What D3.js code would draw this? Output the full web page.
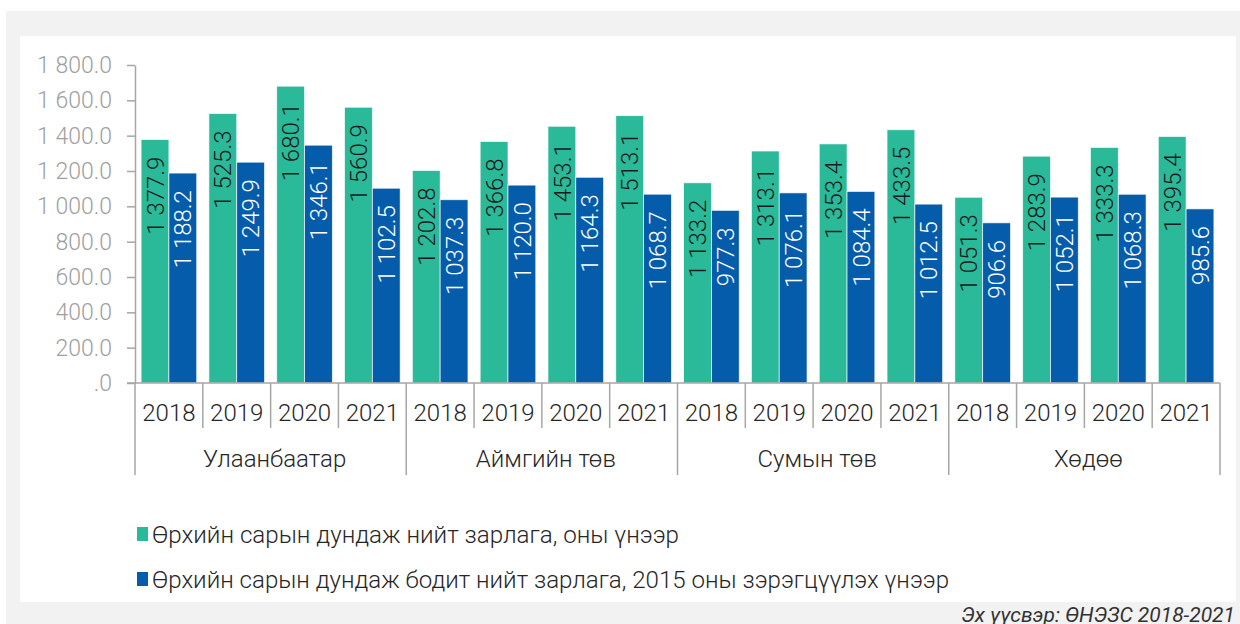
<!DOCTYPE html>
<html>
<head>
<meta charset="utf-8">
<script src="https://cdn.jsdelivr.net/npm/d3@7"></script>
<style>
    html, body { margin: 0; padding: 0; background: #fff; }
    svg { display: block; font-family: Roboto, "Noto Sans", sans-serif; }
</style>
</head>
<body>
<svg id="chart" width="1240" height="624"></svg>
<script>
const groups = ['Улаанбаатар', 'Аймгийн төв', 'Сумын төв', 'Хөдөө'];
const years = ['2018', '2019', '2020', '2021'];
const nominal = [
    1377.9, 1525.3, 1680.1, 1560.9,
    1202.8, 1366.8, 1453.1, 1513.1,
    1133.2, 1313.1, 1353.4, 1433.5,
    1051.3, 1283.9, 1333.3, 1395.4,
];
const real = [
    1188.2, 1249.9, 1346.1, 1102.5,
    1037.3, 1120.0, 1164.3, 1068.7,
    977.3, 1076.1, 1084.4, 1012.5,
    906.6, 1052.1, 1068.3, 985.6,
];
const seriesNames = [
    'Өрхийн сарын дундаж нийт зарлага, оны үнээр',
    'Өрхийн сарын дундаж бодит нийт зарлага, 2015 оны зэрэгцүүлэх үнээр',
];
const yTicks = [0, 200, 400, 600, 800, 1000, 1200, 1400, 1600, 1800];
const source = 'Эх үүсвэр: ӨНЭЗС 2018-2021';

(function () {
    const colours = ['#2aba9a', '#045cab'];
    const labelColours = ['#1a1a1a', '#ffffff'];
    const axisColour = '#a6a6a6';

    const locale = d3.formatLocale({decimal: '.', thousands: ' ', grouping: [3], currency: ['', '']});
    const fmt = v => v === 0 ? '.0' : locale.format(',.1f')(v);

    const [left, right, top, bottom] = [135, 1220, 65, 383];

    let rows = [];
    groups.forEach((g, gi) => {
        years.forEach((yr, yi) => {
            let i = gi * years.length + yi;
            rows.push({key: g + '|' + yr, group: g, year: yr, values: [nominal[i], real[i]]});
        });
    });

    let svg = d3.select('#chart');

    // panels
    svg.append('rect').attr('x', 6).attr('y', 11).attr('width', 1234).attr('height', 613).attr('fill', '#f2f2f2');
    svg.append('rect').attr('x', 20).attr('y', 36).attr('width', 1216).attr('height', 566).attr('fill', '#ffffff');

    let x0 = d3.scaleBand().domain(rows.map(d => d.key)).range([left, right]);
    let bw = x0.bandwidth();
    let x1 = d3.scaleBand().domain([0, 1]).range([bw * 0.09, bw * 0.91]);
    let y = d3.scaleLinear().domain([0, 1800]).range([bottom, top]);

    // y axis
    let yAxis = svg.append('g')
        .attr('transform', `translate(${left}, 0)`)
        .call(d3.axisLeft(y).tickValues(yTicks).tickFormat(fmt).tickSize(8).tickSizeOuter(0).tickPadding(15));
    yAxis.selectAll('path, line').attr('stroke', axisColour).attr('stroke-width', 1.5);
    yAxis.selectAll('text')
        .attr('fill', '#a0a0a0')
        .attr('font-size', '23px')
        .attr('font-weight', 300)
        .attr('font-family', 'Roboto, sans-serif');

    // bars
    let cat = svg.selectAll('g.cat')
        .data(rows)
        .enter()
        .append('g')
        .attr('class', 'cat')
        .attr('transform', d => `translate(${x0(d.key)}, 0)`);

    cat.selectAll('rect')
        .data(d => d.values)
        .enter()
        .append('rect')
        .attr('x', (v, i) => x1(i))
        .attr('y', v => y(v))
        .attr('width', x1.bandwidth())
        .attr('height', v => y(0) - y(v))
        .attr('fill', (v, i) => colours[i])
        .attr('stroke', 'rgba(255,255,255,0.8)')
        .attr('stroke-width', 0.8);

    cat.selectAll('text')
        .data(d => d.values)
        .enter()
        .append('text')
        .attr('transform', (v, i) => `translate(${x1(i) + x1.bandwidth() / 2}, ${y(v) + 17}) rotate(-90)`)
        .attr('text-anchor', 'end')
        .attr('dy', '0.36em')
        .attr('font-size', '24px')
        .attr('font-weight', 300)
        .attr('fill', (v, i) => labelColours[i])
        .text(fmt);

    // category axis
    svg.append('line')
        .attr('x1', left - 8).attr('x2', right)
        .attr('y1', bottom).attr('y2', bottom)
        .attr('stroke', axisColour).attr('stroke-width', 1.5);

    let bounds = rows.map((d, i) => ({x: x0(d.key), major: i % years.length === 0}));
    bounds.push({x: right, major: true});
    svg.selectAll('line.sep')
        .data(bounds)
        .enter()
        .append('line')
        .attr('class', 'sep')
        .attr('x1', d => d.x).attr('x2', d => d.x)
        .attr('y1', bottom).attr('y2', d => d.major ? 475 : 428)
        .attr('stroke', axisColour).attr('stroke-width', 1.5);

    svg.selectAll('text.year')
        .data(rows)
        .enter()
        .append('text')
        .attr('class', 'year')
        .attr('x', d => x0(d.key) + bw / 2)
        .attr('y', 421)
        .attr('text-anchor', 'middle')
        .attr('font-size', '24px')
        .attr('font-weight', 300)
        .attr('fill', '#262626')
        .text(d => d.year);

    svg.selectAll('text.group')
        .data(groups)
        .enter()
        .append('text')
        .attr('class', 'group')
        .attr('x', g => (x0(g + '|' + years[0]) + x0(g + '|' + years[years.length - 1]) + bw) / 2 + 4)
        .attr('y', 467)
        .attr('text-anchor', 'middle')
        .attr('font-size', '24px')
        .attr('font-weight', 300)
        .attr('fill', '#262626')
        .text(g => g);

    // legend
    const legendY = [534, 579];
    const legendW = [527, 797];
    let legend = svg.selectAll('g.legend')
        .data(seriesNames)
        .enter()
        .append('g')
        .attr('class', 'legend')
        .attr('transform', (d, i) => `translate(137, ${legendY[i]})`);
    legend.append('rect')
        .attr('x', 0).attr('y', -7)
        .attr('width', 11).attr('height', 14)
        .attr('fill', (d, i) => colours[i]);
    legend.append('text')
        .attr('x', 15)
        .attr('dy', '0.36em')
        .attr('font-size', '24px')
        .attr('font-weight', 300)
        .attr('fill', '#262626')
        .attr('textLength', (d, i) => legendW[i])
        .attr('lengthAdjust', 'spacingAndGlyphs')
        .text(d => d);

    svg.append('text')
        .attr('x', 1235)
        .attr('y', 622)
        .attr('text-anchor', 'end')
        .attr('font-size', '21px')
        .attr('font-style', 'italic')
        .attr('fill', '#333333')
        .text(source);
})();
</script>
</body>
</html>
